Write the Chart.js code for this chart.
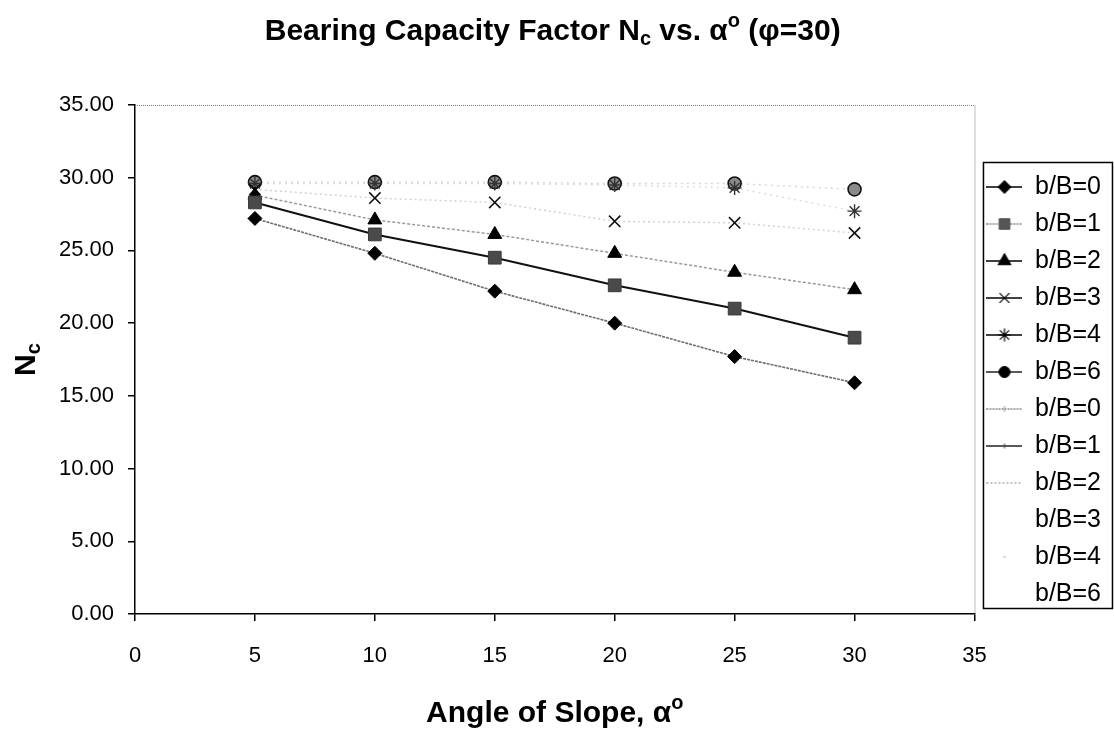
<!DOCTYPE html>
<html>
<head>
<meta charset="utf-8">
<title>Bearing Capacity Factor Nc vs. alpha</title>
<script src="https://cdn.jsdelivr.net/npm/chart.js@4/dist/chart.umd.min.js"></script>
<style>
  html, body { margin: 0; padding: 0; background: #ffffff; }
  canvas { display: block; }
</style>
</head>
<body>
<canvas id="chart" width="1114" height="731"></canvas>
<script>
// Slope angle alpha (degrees) at which Nc was evaluated
const angles = [5, 10, 15, 20, 25, 30];

// Series names (b/B ratios)
const ratioNames = ['b/B=0', 'b/B=1', 'b/B=2', 'b/B=3', 'b/B=4', 'b/B=6'];

// Nc values for each b/B ratio, phi = 30
const ncB0 = [27.2, 24.8, 22.2, 20.0, 17.7, 15.9];
const ncB1 = [28.3, 26.1, 24.5, 22.6, 21.0, 19.0];
const ncB2 = [28.8, 27.1, 26.1, 24.8, 23.5, 22.3];
const ncB3 = [29.2, 28.6, 28.3, 27.0, 26.9, 26.2];
const ncB4 = [29.6, 29.6, 29.6, 29.5, 29.3, 27.7];
const ncB6 = [29.7, 29.7, 29.7, 29.6, 29.6, 29.2];

// Axis tick values
const xTickValues = [0, 5, 10, 15, 20, 25, 30, 35];
const yTickValues = [0, 5, 10, 15, 20, 25, 30, 35];

const seriesValues = [ncB0, ncB1, ncB2, ncB3, ncB4, ncB6];

const FONT = '"Liberation Sans", Arial, Helvetica, sans-serif';

// Marker appearance of the point series
const markerStyles = [
  { pointStyle: 'rectRot',  radius: 7,   fill: '#000000', stroke: '#000000', bw: 1 },
  { pointStyle: 'rect',     radius: 9,   fill: '#4a4a4a', stroke: '#3a3a3a', bw: 1 },
  { pointStyle: 'triangle', radius: 8,   fill: '#000000', stroke: '#000000', bw: 1 },
  { pointStyle: 'crossRot', radius: 8,   fill: '#111111', stroke: '#111111', bw: 1.6 },
  { pointStyle: 'star',     radius: 7,   fill: '#333333', stroke: '#333333', bw: 1.4 },
  { pointStyle: 'circle',   radius: 6.5, fill: '#8a8a8a', stroke: '#111111', bw: 1.6 }
];

// Connecting lines of the line series
const lineStyles = [
  { color: '#6e6e6e', width: 1.6, dash: [3, 1] },
  { color: '#111111', width: 2.0, dash: [] },
  { color: '#9a9a9a', width: 1.5, dash: [3, 2] },
  { color: '#cfcfcf', width: 1.4, dash: [2, 3] },
  { color: '#dcdcdc', width: 1.4, dash: [2, 4] },
  { color: '#d6d6d6', width: 1.4, dash: [2, 4] }
];

// Legend swatches: short line plus marker
const swatchLines1 = [
  { color: '#000', width: 1.6, dash: [] },
  { color: '#8a8a8a', width: 1.6, dash: [2, 1] },
  { color: '#000', width: 1.6, dash: [] },
  { color: '#000', width: 1.6, dash: [] },
  { color: '#000', width: 1.6, dash: [] },
  { color: '#222', width: 1.6, dash: [] }
];
const swatchMarkers1 = [
  { style: 'rectRot', r: 6.5, fill: '#000', stroke: '#000', bw: 1 },
  { style: 'rect', r: 7.5, fill: '#555', stroke: '#555', bw: 1 },
  { style: 'triangle', r: 7.5, fill: '#000', stroke: '#000', bw: 1 },
  { style: 'crossRot', r: 7, fill: '#000', stroke: '#000', bw: 1.2 },
  { style: 'star', r: 6.5, fill: '#000', stroke: '#000', bw: 1.2 },
  { style: 'circle', r: 5.5, fill: '#000', stroke: '#000', bw: 1 }
];
const swatchLines2 = [
  { color: '#8f8f8f', width: 1.4, dash: [2, 1] },
  { color: '#222', width: 1.6, dash: [] },
  { color: '#a8a8a8', width: 1.4, dash: [2, 2] },
  null,
  null,
  null
];
const swatchMarkers2 = [
  { style: 'line', r: 3, fill: '#999', stroke: '#999', bw: 1, rot: 90 },
  { style: 'line', r: 2.5, fill: '#444', stroke: '#444', bw: 1, rot: 90 },
  null,
  null,
  { style: 'circle', r: 0.9, fill: '#b8b8b8', stroke: '#b8b8b8', bw: 0 },
  null
];

function makeSwatch(line, marker) {
  const cv = document.createElement('canvas');
  cv.width = 36;
  cv.height = 20;
  const g = cv.getContext('2d');
  if (line) {
    g.strokeStyle = line.color;
    g.lineWidth = line.width;
    g.setLineDash(line.dash);
    g.beginPath();
    g.moveTo(0, 10);
    g.lineTo(36, 10);
    g.stroke();
    g.setLineDash([]);
  }
  if (marker) {
    g.fillStyle = marker.fill;
    g.strokeStyle = marker.stroke;
    g.lineWidth = marker.bw;
    Chart.helpers.drawPoint(g, {
      pointStyle: marker.style,
      radius: marker.r,
      borderWidth: marker.bw,
      rotation: marker.rot || 0
    }, 18, 10);
  }
  return cv;
}

const swatches = [];
for (let i = 0; i < 6; i++) swatches.push(makeSwatch(swatchLines1[i], swatchMarkers1[i]));
for (let i = 0; i < 6; i++) swatches.push(makeSwatch(swatchLines2[i], swatchMarkers2[i]));

function toPoints(values) {
  return angles.map((a, i) => ({ x: a, y: values[i] }));
}

const datasets = [];
// Marker series
seriesValues.forEach((vals, i) => {
  const m = markerStyles[i];
  datasets.push({
    label: ratioNames[i],
    data: toPoints(vals),
    showLine: false,
    pointStyle: m.pointStyle,
    pointRadius: m.radius,
    pointHoverRadius: m.radius,
    pointBackgroundColor: m.fill,
    pointBorderColor: m.stroke,
    pointBorderWidth: m.bw,
    backgroundColor: m.fill,
    borderColor: m.stroke
  });
});
// Line series
seriesValues.forEach((vals, i) => {
  const l = lineStyles[i];
  datasets.push({
    label: ratioNames[i],
    data: toPoints(vals),
    showLine: true,
    pointRadius: 0,
    pointHoverRadius: 0,
    borderColor: l.color,
    borderWidth: l.width,
    borderDash: l.dash,
    backgroundColor: l.color,
    tension: 0
  });
});

// Draws a run of text pieces (with sub/superscripts) centred on x
function drawRich(ctx, parts, x, y, rotated) {
  ctx.save();
  ctx.translate(x, y);
  if (rotated) ctx.rotate(-Math.PI / 2);
  ctx.fillStyle = '#000';
  ctx.textBaseline = 'alphabetic';
  ctx.textAlign = 'left';
  let total = 0;
  parts.forEach(p => { ctx.font = p.font; p.w = ctx.measureText(p.t).width; total += p.w; });
  let cx = -total / 2;
  parts.forEach(p => { ctx.font = p.font; ctx.fillText(p.t, cx, p.dy || 0); cx += p.w; });
  ctx.restore();
}

const big = 'bold 30px ' + FONT;
const sub = 'bold 20px ' + FONT;

const chartTitle = [
  { t: 'Bearing Capacity Factor N', font: big },
  { t: 'c', font: sub, dy: 5 },
  { t: ' vs. ', font: big },
  { t: '\u03B1', font: big },
  { t: 'o', font: sub, dy: -13 },
  { t: ' (\u03C6=30)', font: big }
];
const xTitle = [
  { t: 'Angle of Slope, \u03B1', font: big },
  { t: 'o', font: sub, dy: -13 }
];
const yTitle = [
  { t: 'N', font: big },
  { t: 'c', font: sub, dy: 5 }
];

const decorPlugin = {
  id: 'decor',
  beforeDatasetsDraw(chart) {
    // dotted frame along the top and right of the plot area
    const { ctx, chartArea: a } = chart;
    ctx.save();
    ctx.strokeStyle = '#7a7a7a';
    ctx.lineWidth = 1;
    ctx.setLineDash([1, 1]);
    ctx.beginPath();
    ctx.moveTo(a.left, a.top + 0.5);
    ctx.lineTo(a.right + 0.5, a.top + 0.5);
    ctx.lineTo(a.right + 0.5, a.bottom);
    ctx.stroke();
    ctx.restore();
  },
  afterDraw(chart) {
    const { ctx, chartArea: a } = chart;
    const mid = (a.left + a.right) / 2;
    drawRich(ctx, chartTitle, mid - 2, 40, false);
    drawRich(ctx, xTitle, mid, 722, false);
    drawRich(ctx, yTitle, 35, (a.top + a.bottom) / 2, true);

    // box around the legend
    const lg = chart.legend;
    if (lg && lg.legendHitBoxes && lg.legendHitBoxes.length) {
      const hb = lg.legendHitBoxes;
      const first = hb[0], last = hb[hb.length - 1];
      const l = first.left - 3, t = first.top - 12;
      const r = first.left + 126, b = last.top + last.height + 2;
      ctx.save();
      ctx.strokeStyle = '#000';
      ctx.lineWidth = 1.5;
      ctx.strokeRect(l, t, r - l, b - t);
      ctx.restore();
    }
  }
};

new Chart(document.getElementById('chart'), {
  type: 'scatter',
  data: { datasets },
  options: {
    responsive: false,
    animation: false,
    events: [],
    layout: { padding: { top: 105, right: 3, bottom: 55, left: 0 } },
    plugins: {
      title: { display: false },
      tooltip: { enabled: false },
      legend: {
        display: true,
        position: 'right',
        align: 'center',
        labels: {
          usePointStyle: true,
          pointStyleWidth: 36,
          boxHeight: 25,
          padding: 12,
          color: '#000',
          font: { family: FONT, size: 25 },
          generateLabels(chart) {
            const items = Chart.defaults.plugins.legend.labels.generateLabels(chart);
            items.forEach((it, i) => {
              it.pointStyle = swatches[i];
              it.lineWidth = 0;
              it.fontColor = '#000';
            });
            return items;
          }
        }
      }
    },
    scales: {
      x: {
        type: 'linear',
        min: 0,
        max: 35,
        afterBuildTicks(scale) { scale.ticks = xTickValues.map(v => ({ value: v })); },
        afterFit(scale) { scale.height = 62; },
        ticks: {
          color: '#000',
          padding: 22,
          font: { family: FONT, size: 22 },
          callback: v => String(v)
        },
        grid: { drawOnChartArea: false, drawTicks: true, tickLength: 7, color: '#000', lineWidth: 1.5 },
        border: { display: true, color: '#000', width: 1.5 }
      },
      y: {
        type: 'linear',
        min: 0,
        max: 35,
        afterBuildTicks(scale) { scale.ticks = yTickValues.map(v => ({ value: v })); },
        afterFit(scale) { scale.width = 135; },
        ticks: {
          color: '#000',
          padding: 14,
          font: { family: FONT, size: 22 },
          callback: v => Number(v).toFixed(2)
        },
        grid: { drawOnChartArea: false, drawTicks: true, tickLength: 7, color: '#000', lineWidth: 1.5 },
        border: { display: true, color: '#000', width: 1.5 }
      }
    }
  },
  plugins: [decorPlugin]
});
</script>
</body>
</html>
